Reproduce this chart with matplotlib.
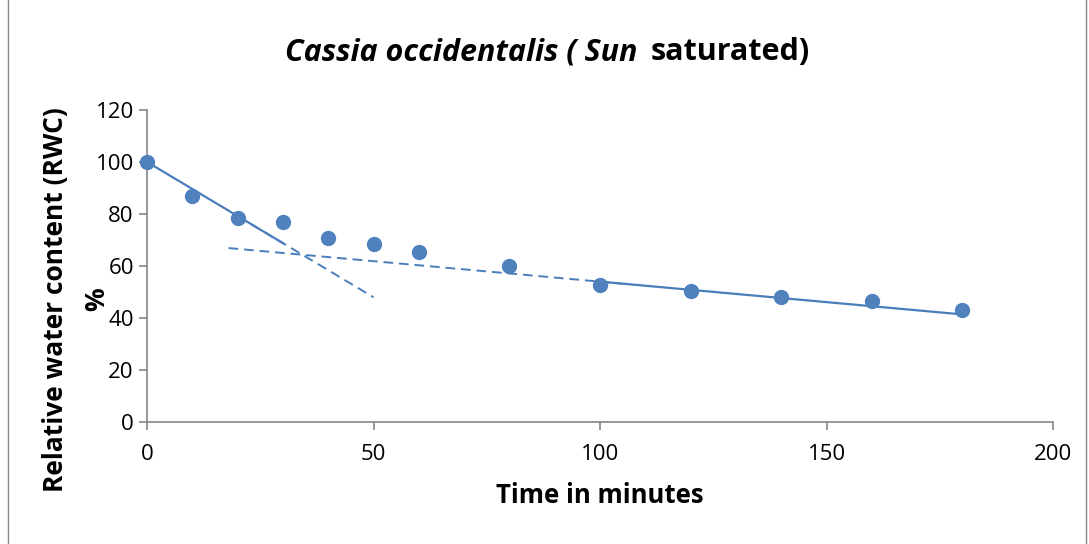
import matplotlib.pyplot as plt
from matplotlib.patches import Rectangle

plt.rcParams['font.family'] = ['Open Sans', 'DejaVu Sans']

# measured relative water content
time_min = [0, 10, 20, 30, 40, 50, 60, 80, 100, 120, 140, 160, 180]
rwc = [100, 86.9, 78.5, 76.9, 70.8, 68.5, 65.4, 60.0, 52.7, 50.4, 48.1, 46.5, 43.1]

# fitted segments (solid) and their extensions (dashed)
fast_x = [0, 30]
fast_y = [100, 68.8]
fast_ext_x = [20, 50]
fast_ext_y = [79.2, 48.0]
slow_x = [100, 180]
slow_y = [54.0, 41.4]
slow_ext_x = [18, 105]
slow_ext_y = [66.9, 53.2]

blue = '#4F81BD'
line_blue = '#4A7EBB'

fig = plt.figure(figsize=(10.89, 5.44), dpi=100)
fig.patches.append(Rectangle((0.007, -0.01), 0.99, 1.02, transform=fig.transFigure,
                             fill=False, edgecolor='#888888', linewidth=1))
ax = fig.add_axes([0.135, 0.224, 0.832, 0.574])

ax.plot(fast_x, fast_y, color=line_blue, linewidth=1.6)
ax.plot(fast_ext_x, fast_ext_y, color=line_blue, linewidth=1.4, linestyle=(0, (5, 3)))
ax.plot(slow_x, slow_y, color=line_blue, linewidth=1.6)
ax.plot(slow_ext_x, slow_ext_y, color=line_blue, linewidth=1.4, linestyle=(0, (5, 3)))
ax.plot(time_min, rwc, 'o', color=blue, markersize=10, zorder=5, clip_on=False)

ax.set_xlim(0, 200)
ax.set_ylim(0, 120)
ax.set_xticks([0, 50, 100, 150, 200])
ax.set_yticks(range(0, 121, 20))
for s in ['top', 'right']:
    ax.spines[s].set_visible(False)
for s in ['left', 'bottom']:
    ax.spines[s].set_color('#868686')
    ax.spines[s].set_linewidth(1.2)
ax.tick_params(axis='both', colors='#868686', labelcolor='black', labelsize=16,
               length=6, width=1.2, direction='out')
ax.tick_params(axis='x', pad=10)

ax.set_xlabel('Time in minutes', fontsize=18.5, fontweight='bold', labelpad=12)
fig.text(0.051, 0.449, 'Relative water content (RWC)', rotation=90, fontsize=19,
         fontweight='bold', ha='center', va='center')
fig.text(0.089, 0.45, '%', rotation=90, fontsize=19, fontweight='bold',
         ha='center', va='center')

# title: italic species name, upright remainder, centred as a group
t1 = fig.text(0, 0.904, 'Cassia occidentalis ( Sun', fontsize=22, fontweight='bold',
              fontstyle='italic', ha='left', va='center')
t2 = fig.text(0, 0.904, 'saturated)', fontsize=22, fontweight='bold',
              ha='left', va='center')
r = fig.canvas.get_renderer()
w1 = t1.get_window_extent(r).width / fig.bbox.width
w2 = t2.get_window_extent(r).width / fig.bbox.width
gap = 13 / fig.bbox.width
x0 = 0.503 - (w1 + gap + w2) / 2
t1.set_x(x0)
t2.set_x(x0 + w1 + gap)

fig.savefig('out.png', dpi=100)
